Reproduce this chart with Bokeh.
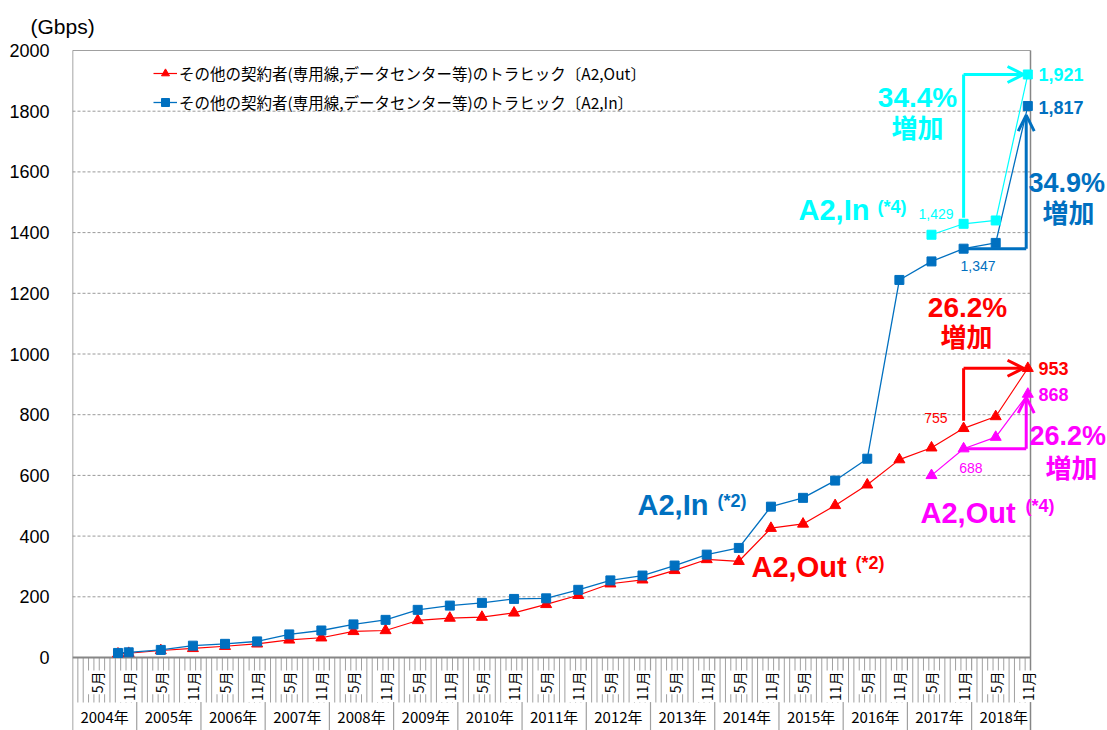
import math
from bokeh.plotting import figure
from bokeh.models import (ColumnDataSource, FixedTicker, Legend, LegendItem,
                          Arrow, OpenHead, Range1d, Label, Title)
from bokeh.embed import file_html
from bokeh.resources import INLINE
from bokeh.core.properties import value

# ---------------- data ----------------
periods = ["2004/9", "2004/11"] + [f"{y}/{m}" for y in range(2005, 2019) for m in (5, 11)]
a2_out = [12, 14, 23, 30, 37, 45, 58, 65, 86, 89, 122, 130, 133, 147, 175, 205,
          243, 256, 287, 323, 317, 426, 440, 501, 569, 652, 691, 755, 794, 953]
a2_in = [15, 17, 25, 39, 45, 53, 76, 89, 109, 124, 157, 171, 180, 193, 195, 223,
         254, 270, 303, 339, 361, 497, 526, 583, 655, 1244, 1305, 1347, 1366, 1817]
new_periods = ["2017/5", "2017/11", "2018/5", "2018/11"]
a2_out_new = [600, 688, 726, 868]
a2_in_new = [1393, 1429, 1440, 1921]
years = list(range(2004, 2019))
year_labels = [f"{y}年" for y in years]
label_months = [5, 11]
y_ticks = list(range(0, 2001, 200))
legend_out = "その他の契約者(専用線,データセンター等)のトラヒック〔A2,Out〕"
legend_in = "その他の契約者(専用線,データセンター等)のトラヒック〔A2,In〕"

FIRST_YEAR = 2004
N_MONTHS = 179  # Jan 2004 .. Nov 2018

BLUE = "#0070C0"
RED = "#FF0000"
CYAN = "#00FFFF"
MAG = "#FF00FF"
GRAY = "#868686"

def mx(period):
    y, m = map(int, period.split("/"))
    return (y - FIRST_YEAR) * 12 + (m - 1) + 0.5

# ---------------- geometry ----------------
W, H = 1107, 730
LEFT = 72
TOP = 38
PXM = 958 / 179          # px per month
PXU = 607 / 2000         # px per Gbps
X_END = (W - LEFT) / PXM
Y_END = 2000 + (50 - TOP) / PXU
Y_START = -(H - 657) / PXU

def X(px):   # page px -> data x
    return (px - LEFT) / PXM

def Y(py):   # page px -> data y
    return (657 - py) / PXU

p = figure(width=W, height=H, output_backend="svg", toolbar_location=None,
           x_range=Range1d(0, X_END), y_range=Range1d(Y_START, Y_END),
           min_border_left=LEFT, min_border_right=0, min_border_top=TOP,
           min_border_bottom=0, outline_line_color=None)
p.add_layout(Title(text="(Gbps)", align="left", offset=-42, standoff=2,
                   text_font="Liberation Sans", text_font_size="21px",
                   text_font_style="normal", text_color="black"), "above")
p.xaxis.visible = False
p.grid.visible = False
p.yaxis.ticker = FixedTicker(ticks=y_ticks)
p.yaxis.axis_line_color = None
p.yaxis.major_tick_line_color = None
p.yaxis.minor_tick_line_color = None
p.yaxis.major_label_standoff = 17
p.yaxis.major_label_text_font = "Liberation Sans"
p.yaxis.major_label_text_font_size = "18px"
p.yaxis.major_label_text_color = "black"

# grid lines
gy = y_ticks[1:-1]
p.segment(x0=[0] * len(gy), y0=gy, x1=[N_MONTHS] * len(gy), y1=gy,
          line_color="#9a9a9a", line_width=1, line_dash="3 2")
# frame borders
p.segment(x0=[0], y0=[2000], x1=[N_MONTHS], y1=[2000], line_color="#a0a0a0", line_width=1)
p.segment(x0=[0, N_MONTHS], y0=[Y_START, Y_START], x1=[0, N_MONTHS], y1=[2000, 2000],
          line_color=GRAY, line_width=1.5)

# month row lines
mrow_bottom = Y(702)
mlines = [k for k in range(1, N_MONTHS) if k % 12 != 0]
p.segment(x0=mlines, y0=[0] * len(mlines), x1=mlines, y1=[mrow_bottom] * len(mlines),
          line_color="#a0a0a0", line_width=1)
ylines = [12 * j for j in range(1, 15)]
p.segment(x0=ylines, y0=[0] * len(ylines), x1=ylines, y1=[Y_START] * len(ylines),
          line_color="#a0a0a0", line_width=1.2)
p.segment(x0=[0], y0=[0], x1=[N_MONTHS], y1=[0], line_color=GRAY, line_width=2)

# month labels
mlx, mlt = [], []
for y in years:
    for m in label_months:
        mlx.append(mx(f"{y}/{m}"))
        mlt.append(f"{m}月")
p.text(x=mlx, y=[Y(670)] * len(mlx), text=mlt, angle=math.pi / 2,
       text_align="right", text_baseline="middle", text_font=value("Noto Sans CJK JP"),
       text_font_size="14px", text_color="black",
       background_fill_color="white", padding=1)
# year labels
p.text(x=[(y - FIRST_YEAR) * 12 + 6 for y in years], y=[Y(716)] * len(years),
       text=year_labels, text_align="center", text_baseline="middle",
       text_font=value("Noto Sans CJK JP"), text_font_size="15px", text_color="black")

# ---------------- series ----------------
src = ColumnDataSource(dict(x=[mx(t) for t in periods], out=a2_out, inn=a2_in))
nsrc = ColumnDataSource(dict(x=[mx(t) for t in new_periods], out=a2_out_new, inn=a2_in_new))

r_out_l = p.line("x", "out", source=src, line_color=RED, line_width=1.2)
r_out_m = p.scatter("x", "out", source=src, marker="triangle", size=11, color=RED)
r_in_l = p.line("x", "inn", source=src, line_color=BLUE, line_width=1.3)
r_in_m = p.scatter("x", "inn", source=src, marker="square", size=9, color=BLUE)
p.line("x", "out", source=nsrc, line_color=MAG, line_width=1.2)
p.scatter("x", "out", source=nsrc, marker="triangle", size=11, color=MAG)
p.line("x", "inn", source=nsrc, line_color=CYAN, line_width=1.2)
p.scatter("x", "inn", source=nsrc, marker="square", size=9, color=CYAN)

legend = Legend(items=[LegendItem(label=legend_out, renderers=[r_out_l, r_out_m]),
                       LegendItem(label=legend_in, renderers=[r_in_l, r_in_m])],
                location=(81, H - 113), orientation="vertical",
                glyph_width=24, glyph_height=20, label_height=20, spacing=7,
                label_standoff=2, padding=0, margin=0,
                border_line_color=None, background_fill_alpha=0,
                label_text_font="Noto Sans CJK JP", label_text_font_size="15.5px",
                label_text_color="black")
p.add_layout(legend, "center")

# ---------------- annotations ----------------
def lab(text, px, py, color, size, bold=True, align="left",
        font="Liberation Sans"):
    p.add_layout(Label(x=X(px), y=Y(py), text=text, text_color=color,
                       text_font_size=f"{size}px", text_font=font,
                       text_font_style="bold" if bold else "normal",
                       text_align=align, text_baseline="middle"))

CJK = "Noto Sans CJK JP"
lab("A2,In", 637, 504, BLUE, 29)
lab("(*2)", 717, 500, BLUE, 18)
lab("A2,Out", 751, 566, RED, 29)
lab("(*2)", 855, 562, RED, 18)
lab("A2,In", 798, 209, CYAN, 29)
lab("(*4)", 877, 206, CYAN, 18)
lab("A2,Out", 920, 512, MAG, 29)
lab("(*4)", 1025, 505, MAG, 18)

lab("34.4%", 917, 97, CYAN, 28, align="center")
lab("増加", 917, 126, CYAN, 26, align="center", font=CJK)
lab("34.9%", 1028, 182, BLUE, 27)
lab("増加", 1068, 211, BLUE, 26, align="center", font=CJK)
lab("26.2%", 967, 307, RED, 28, align="center")
lab("増加", 966, 335, RED, 26, align="center", font=CJK)
lab("26.2%", 1029, 435, MAG, 27)
lab("増加", 1071, 466, MAG, 26, align="center", font=CJK)

# value labels anchored on points
x_last = mx("2018/11")
x_prev = mx("2017/11")
vl = [(a2_in_new[-1], CYAN, 0), (a2_in[-1], BLUE, 1), (a2_out[-1], RED, 0), (a2_out_new[-1], MAG, 0)]
for v, c, dy in vl:
    p.add_layout(Label(x=x_last + 2.0, y=v - dy * 4, text=f"{v:,}", text_color=c,
                       text_font_size="18px", text_font="Liberation Sans",
                       text_font_style="bold", text_align="left", text_baseline="middle"))
small = [(a2_in_new[1], CYAN, 953, 213), (a2_in[-3], BLUE, 995, 265),
         (a2_out[-3], RED, 947, 417), (a2_out_new[1], MAG, 982, 467)]
for v, c, px, py in small:
    p.add_layout(Label(x=X(px), y=Y(py), text=f"{v:,}", text_color=c,
                       text_font_size="14px", text_font="Liberation Sans",
                       text_align="right", text_baseline="middle"))

# growth arrows
LW = 3
def head(c):
    return OpenHead(size=16, line_color=c, line_width=LW)

# cyan: up from 2017/11 then right to 2018/11
p.line([x_prev, x_prev], [a2_in_new[1] + 20, a2_in_new[-1]], line_color=CYAN, line_width=LW)
p.add_layout(Arrow(end=head(CYAN), x_start=x_prev, y_start=a2_in_new[-1],
                   x_end=x_last - 0.8, y_end=a2_in_new[-1], line_color=CYAN, line_width=LW))
# blue: right from 2017/11 then up to 2018/11
p.line([x_prev, x_last - 0.3], [a2_in[-3], a2_in[-3]], line_color=BLUE, line_width=LW)
p.add_layout(Arrow(end=head(BLUE), x_start=x_last - 0.3, y_start=a2_in[-3],
                   x_end=x_last - 0.3, y_end=a2_in[-1] - 30, line_color=BLUE, line_width=LW))
# red: up from 2017/11 then right
p.line([x_prev, x_prev], [a2_out[-3] + 25, a2_out[-1]], line_color=RED, line_width=LW)
p.add_layout(Arrow(end=head(RED), x_start=x_prev, y_start=a2_out[-1],
                   x_end=x_last - 0.8, y_end=a2_out[-1], line_color=RED, line_width=LW))
# magenta: right from 2017/11 then up
p.line([x_prev, x_last - 0.3], [a2_out_new[1], a2_out_new[1]], line_color=MAG, line_width=LW)
p.add_layout(Arrow(end=head(MAG), x_start=x_last - 0.3, y_start=a2_out_new[1],
                   x_end=x_last - 0.3, y_end=a2_out_new[-1] - 10, line_color=MAG, line_width=LW))

open("out.html", "w").write(file_html(p, INLINE))
